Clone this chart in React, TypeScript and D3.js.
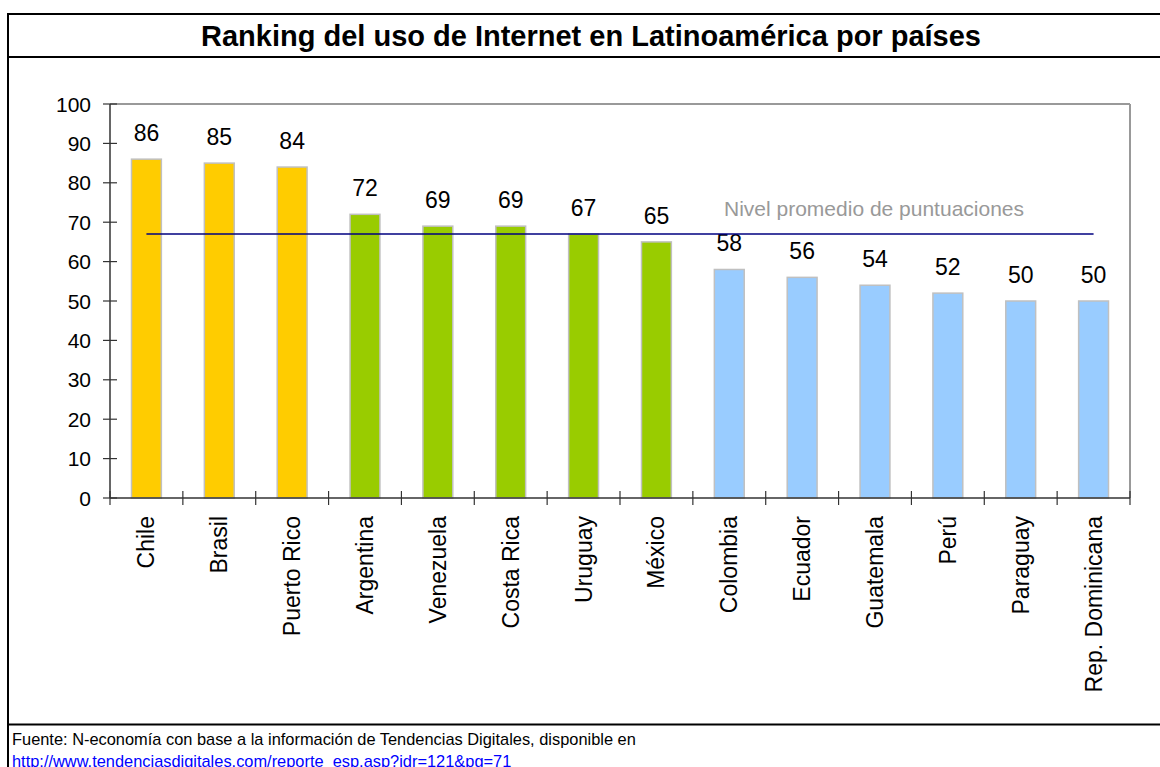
import React from "react";
import * as d3 from "d3";

const countries = ["Chile","Brasil","Puerto Rico","Argentina","Venezuela","Costa Rica","Uruguay","México","Colombia","Ecuador","Guatemala","Perú","Paraguay","Rep. Dominicana"];
const values = [86,85,84,72,69,69,67,65,58,56,54,52,50,50];
const groups = ["top","top","top","mid","mid","mid","mid","mid","low","low","low","low","low","low"];
const groupColors: Record<string,string> = { top: "#FFCC00", mid: "#99CC00", low: "#99CCFF" };
const average = 67;
const yTicks = [0,10,20,30,40,50,60,70,80,90,100];
const title = "Ranking del uso de Internet en Latinoamérica por países";
const avgLabel = "Nivel promedio de puntuaciones";
const source1 = "Fuente: N-economía con base a la información de Tendencias Digitales, disponible en";
const source2 = "http://www.tendenciasdigitales.com/reporte_esp.asp?idr=121&pg=71";

export default function App() {
  const W = 1160, H = 767;
  const left = 110, right = 1130, top = 104, bottom = 498;
  const x = d3.scaleBand<string>().domain(countries).range([left, right]).paddingInner(0.59).paddingOuter(0.295);
  const xb = d3.scaleBand<string>().domain(countries).range([left, right]);
  const y = d3.scaleLinear().domain([0, 100]).range([bottom, top]);
  const font = "Arial, 'Liberation Sans', sans-serif";
  const firstC = xb(countries[0])! + xb.bandwidth() / 2;
  const lastC = xb(countries[countries.length - 1])! + xb.bandwidth() / 2;
  return (
    <svg width={W} height={H} style={{ position: "absolute", left: 0, top: 0, background: "#fff" }} fontFamily={font}>
      <rect x={0} y={0} width={W} height={H} fill="#fff" />
      {/* frame */}
      <line x1={8} x2={W} y1={14} y2={14} stroke="#000" strokeWidth={2} />
      <line x1={8} x2={W} y1={57} y2={57} stroke="#000" strokeWidth={2} />
      <line x1={8} x2={W} y1={724.5} y2={724.5} stroke="#000" strokeWidth={2} />
      <line x1={8} x2={8} y1={13} y2={H} stroke="#000" strokeWidth={2} />
      <text x={591} y={46} textAnchor="middle" fontSize={29} fontWeight="bold">{title}</text>
      {/* plot frame */}
      <line x1={left} x2={right} y1={top} y2={top} stroke="#999" strokeWidth={2} />
      <line x1={right} x2={right} y1={top} y2={bottom} stroke="#999" strokeWidth={2} />
      {/* bars */}
      {countries.map((c, i) => (
        <rect key={c} x={x(c)} y={y(values[i])} width={x.bandwidth()} height={bottom - y(values[i])}
          fill={groupColors[groups[i]]} stroke="#C0C0C0" strokeWidth={1.5} />
      ))}
      {countries.map((c, i) => (
        <text key={c + "v"} x={x(c)! + x.bandwidth() / 2} y={y(values[i]) - 18} textAnchor="middle" fontSize={23}>{values[i]}</text>
      ))}
      {/* axes */}
      <line x1={left} x2={left} y1={top} y2={bottom} stroke="#333" strokeWidth={1.5} />
      <line x1={left} x2={right} y1={bottom} y2={bottom} stroke="#333" strokeWidth={1.5} />
      {yTicks.map(t => (
        <g key={t}>
          <line x1={103} x2={117} y1={y(t)} y2={y(t)} stroke="#333" strokeWidth={1.2} />
          <text x={91} y={y(t) + 7.5} textAnchor="end" fontSize={21}>{t}</text>
        </g>
      ))}
      {[...countries.map(c => xb(c)!), right].map((v, i) => (
        <line key={"xt" + i} x1={v} x2={v} y1={491} y2={505} stroke="#333" strokeWidth={1.2} />
      ))}
      {countries.map(c => {
        const cx = xb(c)! + xb.bandwidth() / 2 + 8;
        return (
          <text key={c + "l"} transform={`translate(${cx},516) rotate(-90)`} textAnchor="end" fontSize={23}>{c}</text>
        );
      })}
      {/* average */}
      <line x1={firstC} x2={lastC} y1={y(average)} y2={y(average)} stroke="#000080" strokeWidth={1.5} />
      <text x={724} y={216} fontSize={21} fill="#999">{avgLabel}</text>
      {/* source */}
      <text x={12} y={745} fontSize={16.4}>{source1}</text>
      <text x={12} y={767} fontSize={16.4} fill="#0000FF" textDecoration="underline">{source2}</text>
    </svg>
  );
}
